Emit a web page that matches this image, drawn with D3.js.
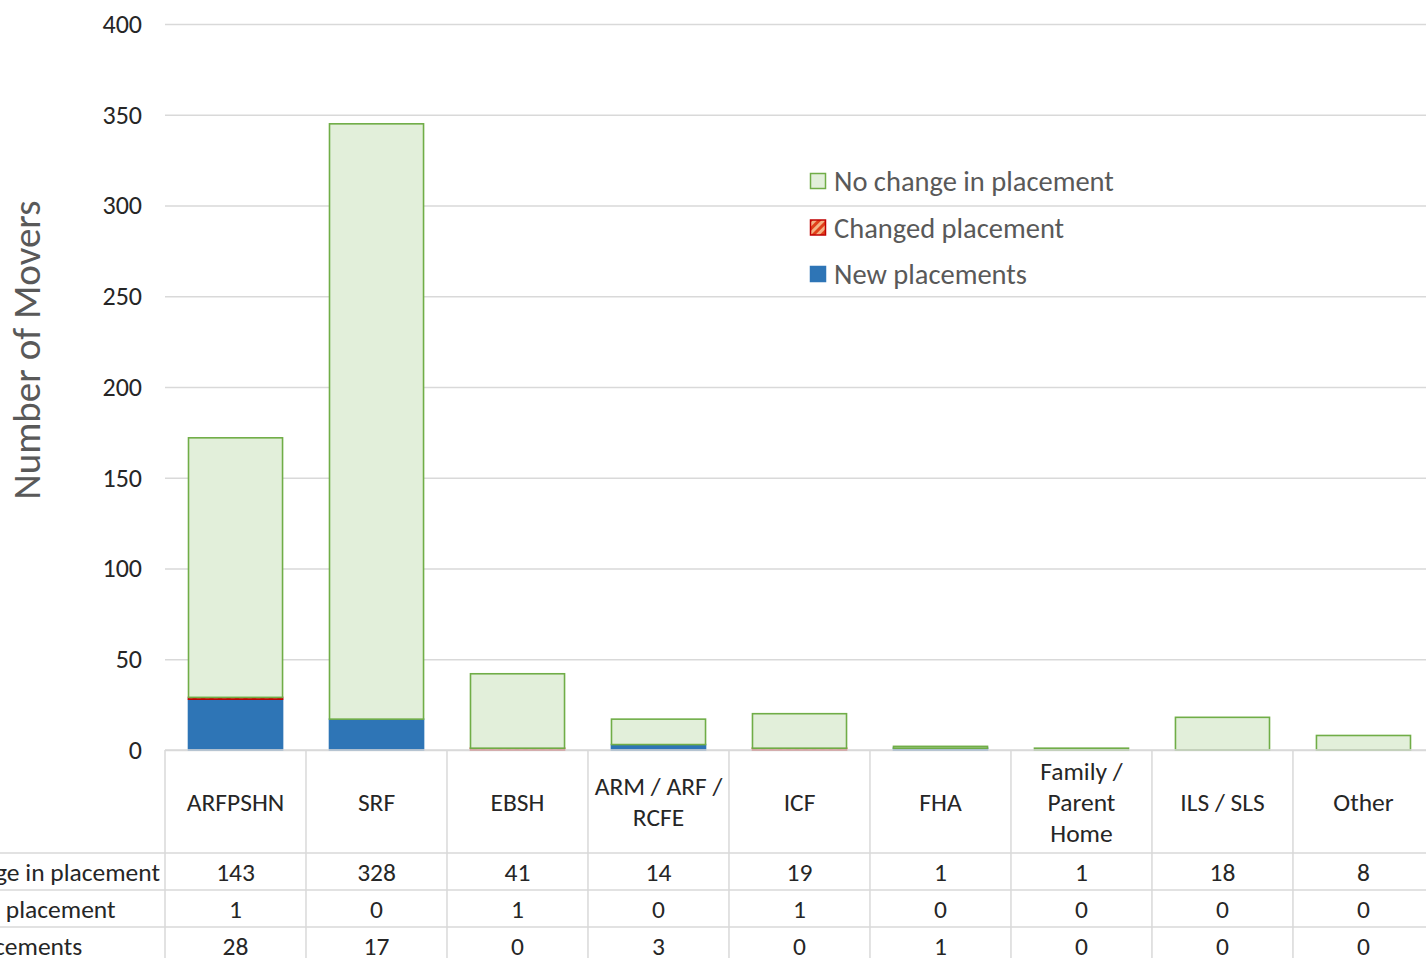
<!DOCTYPE html>
<html>
<head>
<meta charset="utf-8">
<script src="https://cdn.jsdelivr.net/npm/d3@7"></script>
<style>
  html, body { margin: 0; padding: 0; background: #fff; overflow: hidden; }
  svg { display: block; font-family: Carlito, Lato, "Open Sans", sans-serif; }
</style>
</head>
<body>
<svg id="chart" width="1426" height="958"></svg>
<script>
// Placement categories (header lines of the data table)
const categories = ["ARFPSHN", "SRF", "EBSH", "ARM / ARF / RCFE", "ICF", "FHA", "Family / Parent Home", "ILS / SLS", "Other"];
const categoryLines = [["ARFPSHN"], ["SRF"], ["EBSH"], ["ARM / ARF /", "RCFE"], ["ICF"], ["FHA"], ["Family /", "Parent", "Home"], ["ILS / SLS"], ["Other"]];

// Series values
const noChange = [143, 328, 41, 14, 19, 1, 1, 18, 8];
const changed = [1, 0, 1, 0, 1, 0, 0, 0, 0];
const newPlacements = [28, 17, 0, 3, 0, 1, 0, 0, 0];

const seriesNames = ["No change in placement", "Changed placement", "New placements"];
const yTicks = [0, 50, 100, 150, 200, 250, 300, 350, 400];
const yTitle = "Number of  Movers";

const svg = d3.select("#chart");

// hatch pattern for the "Changed placement" series
const defs = svg.append("defs");
const pat = defs.append("pattern")
  .attr("id", "hatch").attr("patternUnits", "userSpaceOnUse")
  .attr("width", 6).attr("height", 6)
  .attr("patternTransform", "rotate(45)");
pat.append("rect").attr("width", 6).attr("height", 6).attr("fill", "#f4b183");
pat.append("rect").attr("width", 3).attr("height", 6).attr("fill", "#e0401a");

const plotLeft = 165, plotRight = 1434, plotTop = 24, plotBottom = 750;
const textColor = "#262626";
const tableFont = 25.5;

const x = d3.scaleBand().domain(categories)
  .range([plotLeft, plotRight])
  .paddingInner(0.333).paddingOuter(0.1667);
const step = x.step();

const y = d3.scaleLinear().domain([0, 400]).range([plotBottom, plotTop]);

// gridlines + tick labels
const yAxis = d3.axisLeft(y).tickValues(yTicks).tickSize(-(1426 - plotLeft)).tickPadding(23);
const gy = svg.append("g").attr("transform", `translate(${plotLeft},0)`).call(yAxis);
gy.select(".domain").remove();
gy.selectAll(".tick line").attr("stroke", "#d9d9d9").attr("stroke-width", 1.3);
gy.selectAll(".tick text")
  .attr("fill", textColor).attr("font-size", 26)
  .attr("font-family", "Carlito, Lato, 'Open Sans', sans-serif");

// y-axis title
svg.append("text")
  .attr("transform", `translate(40,350) rotate(-90)`)
  .attr("text-anchor", "middle")
  .attr("fill", "#595959")
  .attr("font-size", 39)
  .text(yTitle);

// stacked bars: new placements at the bottom, then changed, then no change
const rows = categories.map((c, i) => ({
  cat: c, newP: newPlacements[i], changed: changed[i], noChange: noChange[i]
}));
const stack = d3.stack().keys(["newP", "changed", "noChange"]);
const stacked = stack(rows);
const styles = {
  newP: { fill: "#2e75b6", stroke: "#2e75b6" },
  changed: { fill: "url(#hatch)", stroke: "#c00000" },
  noChange: { fill: "#e2efda", stroke: "#70ad47" }
};

stacked.forEach(layer => {
  const st = styles[layer.key];
  svg.append("g").selectAll("rect")
    .data(layer.filter(d => d[1] - d[0] > 0))
    .join("rect")
    .attr("x", d => x(d.data.cat))
    .attr("width", x.bandwidth())
    .attr("y", d => y(d[1]))
    .attr("height", d => y(d[0]) - y(d[1]))
    .attr("fill", st.fill)
    .attr("stroke", st.stroke)
    .attr("stroke-width", 1.6);
});

// legend
const legend = svg.append("g").attr("transform", "translate(810,181)");
const legendStyles = [styles.noChange, styles.changed, styles.newP];
seriesNames.forEach((name, i) => {
  const g = legend.append("g").attr("transform", `translate(0,${i * 46.5})`);
  g.append("rect").attr("x", 0.5).attr("y", -7.5).attr("width", 15).attr("height", 15)
    .attr("fill", legendStyles[i].fill).attr("stroke", legendStyles[i].stroke).attr("stroke-width", 1.5);
  g.append("text").attr("x", 24).attr("y", 10)
    .attr("fill", "#595959").attr("font-size", 28.5).text(name);
});

// data table below the plot
const tableRows = [noChange, changed, newPlacements];
const headerBottom = 853, rowH = 37;
const gridColor = "#d9d9d9";
const tbl = svg.append("g");

// horizontal lines
tbl.append("line").attr("x1", plotLeft).attr("x2", 1426).attr("y1", plotBottom).attr("y2", plotBottom)
  .attr("stroke", gridColor).attr("stroke-width", 1.5);
[0, 1, 2].forEach(r => {
  const yy = headerBottom + r * rowH;
  tbl.append("line").attr("x1", 0).attr("x2", 1426).attr("y1", yy).attr("y2", yy)
    .attr("stroke", gridColor).attr("stroke-width", 1.5);
});
// vertical lines
categories.forEach((c, i) => {
  const left = plotLeft + i * step;
  tbl.append("line").attr("x1", left).attr("x2", left).attr("y1", plotBottom).attr("y2", 958)
    .attr("stroke", gridColor).attr("stroke-width", 1.5);
});

// header text
categories.forEach((c, i) => {
  const cx = x(c) + x.bandwidth() / 2;
  const lines = categoryLines[i];
  const lh = 31;
  const cy = (plotBottom + headerBottom) / 2;
  lines.forEach((ln, k) => {
    tbl.append("text")
      .attr("x", cx)
      .attr("y", cy + (k - (lines.length - 1) / 2) * lh + 9)
      .attr("text-anchor", "middle")
      .attr("fill", textColor).attr("font-size", tableFont)
      .text(ln);
  });
});

// row labels (left-aligned, running past the left edge)
const labels = tbl.selectAll("text.rowlabel").data(seriesNames).join("text")
  .attr("class", "rowlabel")
  .attr("y", (d, r) => headerBottom + r * rowH + rowH / 2 + 9)
  .attr("fill", textColor).attr("font-size", tableFont)
  .text(d => d);
const firstLen = labels.nodes()[0].getComputedTextLength();
labels.attr("x", 160 - firstLen);

// row values
tableRows.forEach((vals, r) => {
  vals.forEach((v, i) => {
    tbl.append("text")
      .attr("x", x(categories[i]) + x.bandwidth() / 2)
      .attr("y", headerBottom + r * rowH + rowH / 2 + 9)
      .attr("text-anchor", "middle")
      .attr("fill", textColor).attr("font-size", tableFont)
      .text(v);
  });
});
</script>
</body>
</html>
